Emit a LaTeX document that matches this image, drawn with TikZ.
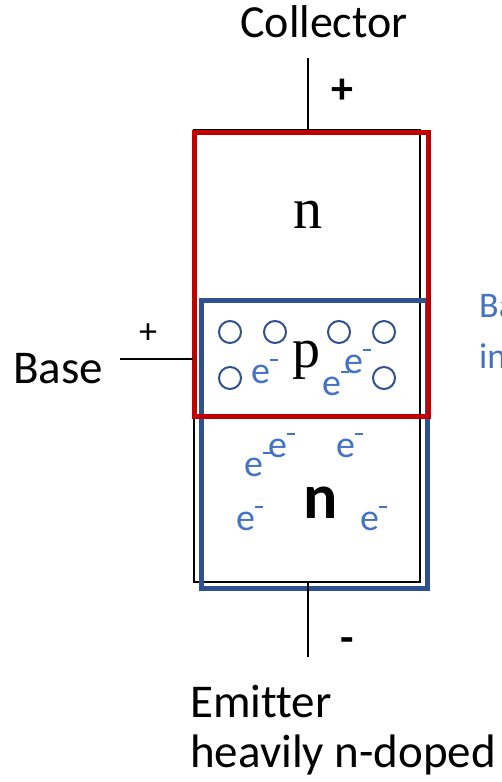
\documentclass[tikz,border=0pt]{standalone}
\usepackage{fontspec}
\setmainfont{Carlito}[Ligatures=NoCommon]
\newfontfamily\seriffont{Liberation Serif}
\definecolor{myred}{HTML}{C00000}
\definecolor{mydblue}{HTML}{2F528F}
\definecolor{mylblue}{HTML}{4472C4}
\newcommand\elec{e\raisebox{0.58em}{\rule{0.2em}{0.055em}}}
\begin{document}
\begin{tikzpicture}[x=1pt,y=-1pt,
  lbl/.style={font=\fontsize{47}{54}\selectfont, inner sep=0, anchor=base west},
  ele/.style={font=\fontsize{38}{40}\selectfont, text=mylblue, inner sep=0, anchor=base west},
  hole/.style={draw=mydblue, line width=2, circle, minimum size=22, inner sep=0},
  wire/.style={line width=1.5}]
\useasboundingbox (0,0) rectangle (502,782);
% body
\node[draw, line width=1.5, minimum width=226, minimum height=452, inner sep=0] (body) at (307,356) {};
\node[draw=mydblue, line width=5, minimum width=226, minimum height=288, inner sep=0] (blue) at (314.5,444) {};
\node[draw=myred, line width=5, minimum width=233.5, minimum height=284, inner sep=0] (red) at (311.25,274.5) {};
% labels
\node[font=\fontsize{46}{50}\selectfont, inner sep=0, anchor=base] (coll) at (324,37) {Collector};
\node[font=\fontsize{44}{50}\selectfont\bfseries, inner sep=0] (cplus) at (342,91) {+};
\node[font=\fontsize{44}{50}\selectfont\bfseries, inner sep=0] (eminus) at (347,645) {-};
\node[lbl] (emit) at (190,717) {Emitter};
\node[lbl] (heav) at (190,767) {heavily n-doped};
\node[lbl] (base) at (13,383) {Base};
\node[font=\fontsize{36}{38}\selectfont, inner sep=0] (bplus) at (148,334) {+};
\node[font=\fontsize{36}{40}\selectfont, text=mylblue, inner sep=0, anchor=base west] (b1) at (479,317) {Base};
\node[font=\fontsize{36}{40}\selectfont, text=mylblue, inner sep=0, anchor=base west] (b2) at (479,368) {in};
% wires
\coordinate (ctop) at (308,58);
\coordinate (ebot) at (308,657);
\coordinate (bl) at (120,359);
\draw[wire] (ctop) -- (ctop |- body.north);
\draw[wire] (ebot) -- (ebot |- body.south);
\draw[wire] (bl) -- (bl -| body.west);
% region letters
\node[font=\seriffont\fontsize{58}{60}\selectfont, inner sep=0, anchor=base] (nc) at (308,228) {n};
\node[font=\seriffont\fontsize{56}{60}\selectfont, inner sep=0, anchor=base] (pb) at (306,367) {p};
\node[font=\fontsize{64}{70}\selectfont\bfseries, inner sep=0, anchor=base] (ne) at (321,518) {n};
% holes
\node[hole] (h1) at (230,332) {};
\node[hole] (h2) at (275,332) {};
\node[hole] (h3) at (339,332) {};
\node[hole] (h4) at (384,332) {};
\node[hole] (h5) at (230,378) {};
\node[hole] (h6) at (384,378) {};
% electrons
\node[ele] (e6) at (251,383) {\elec};
\node[ele] (e7) at (322,395) {\elec};
\node[ele] (e8) at (344,373) {\elec};
\node[ele] (e1) at (244,476) {\elec};
\node[ele] (e2) at (268,457) {\elec};
\node[ele] (e3) at (336,457) {\elec};
\node[ele] (e4) at (236,530) {\elec};
\node[ele] (e5) at (360,530) {\elec};
\end{tikzpicture}
\end{document}
